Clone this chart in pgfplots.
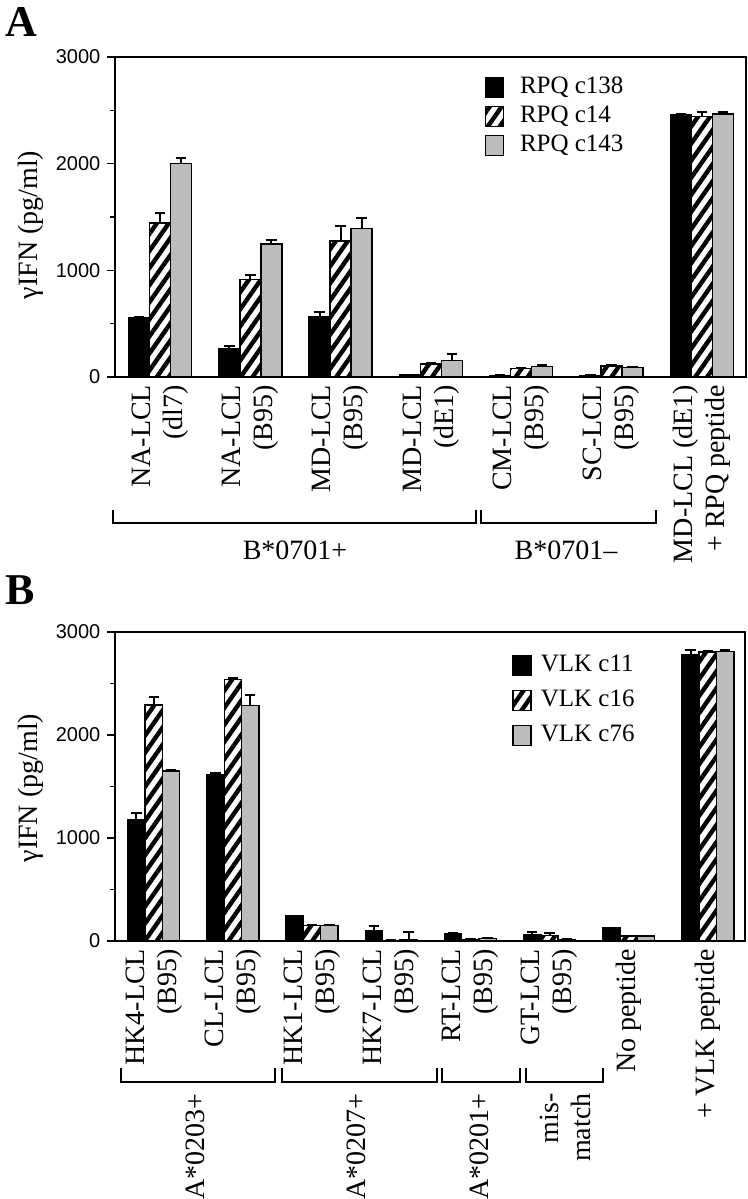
\documentclass[border=0pt]{standalone}
\usepackage{fontspec}
\setmainfont{Liberation Serif}
\setsansfont{Liberation Sans}
\usepackage{pgfplots}
\pgfplotsset{compat=1.18}
\usetikzlibrary{patterns.meta}
\definecolor{bargray}{RGB}{188,188,188}

\tikzset{
  solidbar/.style={fill=black, draw=black, line width=0.75pt},
  hatchbar/.style={draw=black, line width=0.75pt, pattern={Lines[angle=55,distance=4.9pt,line width=2.2pt]}, pattern color=black},
  graybar/.style={fill=bargray, draw=black, line width=0.75pt},
}

\pgfplotsset{
  panel/.style={
    scale only axis, ymin=0, ymax=3000,
    ytick={0,1000,2000,3000}, minor ytick={500,1500,2500},
    ytick pos=left, tick align=outside,
    major tick length=3.8pt, minor tick length=2.5pt,
    xtick style={draw=none},
    ybar=0pt,
    axis line style={line width=0.9pt},
    every tick/.style={black, line width=0.6pt},
    /pgf/number format/assume math mode=true,
    /pgf/number format/1000 sep={},
    yticklabel style={font=\sffamily\fontsize{10}{12}\selectfont},
    xticklabel style={font=\fontsize{14}{16}\selectfont, rotate=90, anchor=east, align=right, inner sep=0pt},
    ylabel={γIFN (pg/ml)},
    ylabel style={font=\fontsize{14}{16}\selectfont, anchor=center, rotate=0},
    legend cell align=left,
    legend image code/.code={\draw[##1, line width=0.75pt] (0pt,-5pt) rectangle (9pt,5pt);},
    error bars/y dir=plus, error bars/y explicit,
    error bars/error mark options={rotate=90, mark size=2.6pt, line width=1pt, black},
    error bars/error bar style={line width=1pt, black},
  },
}

\begin{document}
\begin{tikzpicture}
\useasboundingbox (0,0) rectangle (374pt,-599.5pt);

% panel A
\node[anchor=base west, font=\bfseries\fontsize{22}{24}\selectfont, inner sep=0pt] at (2.5pt,-18pt) {A};
\begin{axis}[panel,
  at={(57.5pt,-188.5pt)}, anchor=south west,
  width=315.5pt, height=160pt,
  xmin=-0.5, xmax=6.49,
  bar width=10.5pt,
  xtick={0,...,6},
  xticklabels={{NA-LCL\\(dl7)},{NA-LCL\\(B95)},{MD-LCL\\(B95)},{MD-LCL\\(dE1)},{CM-LCL\\(B95)},{SC-LCL\\(B95)},{MD-LCL (dE1)\\+ RPQ peptide}},
  ylabel style={at={(axis description cs:-0.133,0.475)}},
  legend style={draw=none, fill=none, at={(axis description cs:0.585,0.94)}, anchor=north west, inner sep=0pt,
    font=\fontsize{12.5}{14}\selectfont, row sep=3.5pt, column sep=8pt,
    nodes={inner sep=0pt, text height=8.5pt, text depth=2.5pt, anchor=west}},
]
\addplot[solidbar] coordinates {(0,555)+-(0,8) (1,262)+-(0,28) (2,561)+-(0,46) (3,20)+-(0,0) (4,15)+-(0,0) (5,15)+-(0,0) (6,2459)+-(0,8)};
\addplot[hatchbar] coordinates {(0,1442)+-(0,97) (1,913)+-(0,43) (2,1277)+-(0,140) (3,120)+-(0,10) (4,78)+-(0,5) (5,105)+-(0,8) (6,2440)+-(0,40)};
\addplot[graybar] coordinates {(0,2003)+-(0,50) (1,1246)+-(0,37) (2,1393)+-(0,102) (3,156)+-(0,56) (4,100)+-(0,9) (5,87)+-(0,5) (6,2465)+-(0,15)};
\legend{RPQ c138, RPQ c14, RPQ c143}
\end{axis}

\draw[line width=1pt] (56.5pt,-255pt) -- (56.5pt,-261.5pt) -- (238pt,-261.5pt) -- (238pt,-255pt);
\draw[line width=1pt] (240.5pt,-255pt) -- (240.5pt,-261.5pt) -- (328pt,-261.5pt) -- (328pt,-255pt);
\node[font=\fontsize{14}{16}\selectfont] at (147.5pt,-275pt) {B*0701+};
\node[font=\fontsize{14}{16}\selectfont] at (283pt,-275pt) {B*0701–};

% panel B
\node[anchor=base west, font=\bfseries\fontsize{22}{24}\selectfont, inner sep=0pt] at (2.5pt,-302pt) {B};
\begin{axis}[panel,
  at={(57.5pt,-470.5pt)}, anchor=south west,
  width=315pt, height=154.5pt,
  xmin=-0.49, xmax=7.47,
  bar width=8.65pt,
  xtick={0,...,7},
  xticklabels={{HK4-LCL\\(B95)},{CL-LCL\\(B95)},{HK1-LCL\\(B95)},{HK7-LCL\\(B95)},{RT-LCL\\(B95)},{GT-LCL\\(B95)},{No peptide},{+ VLK peptide}},
  ylabel style={at={(axis description cs:-0.133,0.495)}},
  legend style={draw=none, fill=none, at={(axis description cs:0.63,0.928)}, anchor=north west, inner sep=0pt,
    font=\fontsize{12.5}{14}\selectfont, row sep=6.5pt, column sep=4.5pt,
    nodes={inner sep=0pt, text height=8.5pt, text depth=2.5pt, anchor=west}},
]
\addplot[solidbar] coordinates {(0,1177)+-(0,65) (1,1613)+-(0,16) (2,242)+-(0,0) (3,103)+-(0,42) (4,74)+-(0,0) (5,65)+-(0,25) (6,129)+-(0,0) (7,2784)+-(0,45)};
\addplot[hatchbar] coordinates {(0,2290)+-(0,78) (1,2539)+-(0,10) (2,152)+-(0,0) (3,6)+-(0,0) (4,15)+-(0,0) (5,52)+-(0,22) (6,48)+-(0,0) (7,2806)+-(0,5)};
\addplot[graybar] coordinates {(0,1652)+-(0,5) (1,2287)+-(0,100) (2,152)+-(0,0) (3,13)+-(0,70) (4,26)+-(0,0) (5,16)+-(0,0) (6,48)+-(0,0) (7,2813)+-(0,15)};
\legend{VLK c11, VLK c16, VLK c76}
\end{axis}

\draw[line width=1pt] (60.5pt,-534pt) -- (60.5pt,-541pt) -- (137.5pt,-541pt) -- (137.5pt,-534pt);
\draw[line width=1pt] (141pt,-534pt) -- (141pt,-541pt) -- (218.5pt,-541pt) -- (218.5pt,-534pt);
\draw[line width=1pt] (221pt,-534pt) -- (221pt,-541pt) -- (260pt,-541pt) -- (260pt,-534pt);
\draw[line width=1pt] (263pt,-534pt) -- (263pt,-541pt) -- (301.5pt,-541pt) -- (301.5pt,-534pt);
\begin{scope}[every node/.style={font=\fontsize{14}{16}\selectfont, rotate=90, anchor=east, align=right, inner sep=0pt}]
\node at (97.5pt,-546.5pt) {A*0203+};
\node at (178pt,-546.5pt) {A*0207+};
\node at (239.5pt,-546.5pt) {A*0201+};
\node at (282.5pt,-546.5pt) {mis-\\match};
\end{scope}
\end{tikzpicture}
\end{document}
